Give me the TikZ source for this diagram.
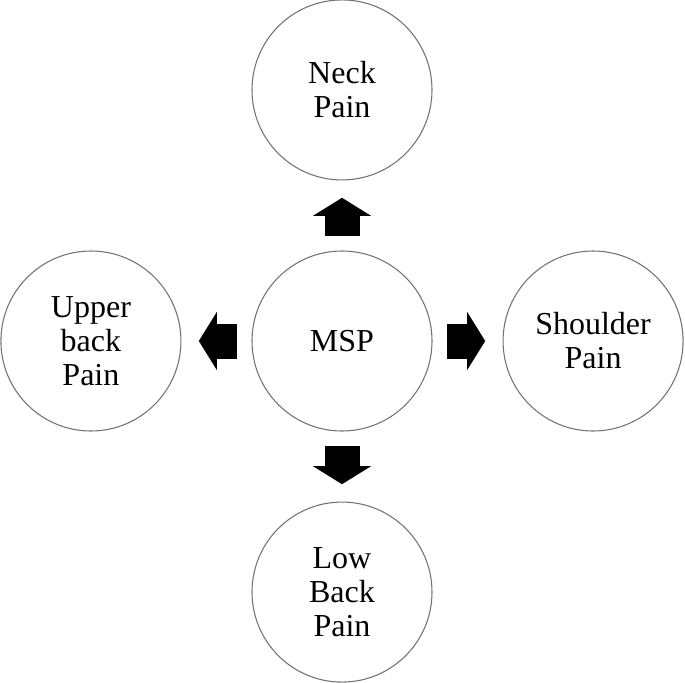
\documentclass[tikz,border=0pt]{standalone}
\usepackage{fontspec}
\setmainfont{Liberation Serif}
\usetikzlibrary{arrows.meta, positioning}

\begin{document}
\begin{tikzpicture}[
    x=0.75pt, y=-0.75pt,
    node distance=52.5pt,
    paincircle/.style={draw=black!55, line width=0.8pt, circle, minimum size=135pt, align=center, font=\fontsize{24}{25.5}\selectfont},
    blockarrow/.style={line width=26.25pt, -{Triangle[width=43.5pt, length=13.5pt, line width=0pt]}, shorten <=11pt, shorten >=13pt}
]
\useasboundingbox (0,0) rectangle (685,682);

% --- Circles ---
\node[paincircle] (msp) at (342,341) {MSP};
\node[paincircle, above=of msp] (neck) {Neck\\Pain};
\node[paincircle, left=of msp] (upper) {Upper\\back\\Pain};
\node[paincircle, right=of msp] (shoulder) {Shoulder\\Pain};
\node[paincircle, below=of msp] (low) {Low\\Back\\Pain};

% --- Block arrows ---
\draw[blockarrow] (msp) -- (neck);
\draw[blockarrow] (msp) -- (upper);
\draw[blockarrow] (msp) -- (shoulder);
\draw[blockarrow] (msp) -- (low);

\end{tikzpicture}
\end{document}
